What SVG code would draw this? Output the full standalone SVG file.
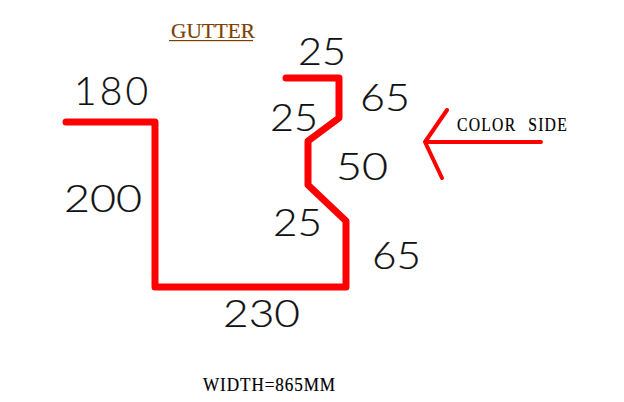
<svg xmlns="http://www.w3.org/2000/svg" width="624" height="402" viewBox="0 0 624 402">
<style>
.dim{font-family:"Lato","Liberation Sans",sans-serif;font-weight:300;font-size:38px;fill:#111;stroke:#111;stroke-width:.2}
.ser{font-family:"Liberation Serif",serif;font-size:19px;fill:#000;stroke:#000;stroke-width:.2}
.red{fill:none;stroke:#f00;stroke-linejoin:round;stroke-linecap:round}
</style>
<rect width="624" height="402" fill="#fff"/>
<g id="connectors">
<path id="profile" class="red" stroke-width="7" d="M66 122H155V287H346V221L308 185V141L339 118V78H286"/>
<path id="arrow" class="red" stroke-width="4" d="M541 142H425M447 110L425 142L442 178"/>
</g>
<g id="title"><text class="ser" x="171" y="38" style="fill:#7f3f00;stroke:#7f3f00;font-size:21px" textLength="84" lengthAdjust="spacingAndGlyphs">GUTTER</text><rect x="169" y="40" width="84" height="1.2" fill="#7f3f00"/></g>
<g id="label-color-side"><text class="ser" x="457" y="131" textLength="111" lengthAdjust="spacingAndGlyphs" style="letter-spacing:1.5px;word-spacing:8px">COLOR SIDE</text></g>
<g id="label-width"><text class="ser" x="203" y="391" textLength="133" lengthAdjust="spacingAndGlyphs" style="letter-spacing:1px">WIDTH=865MM</text></g>
<g id="dim-180"><text class="dim" x="74" y="105" textLength="74" lengthAdjust="spacing" style="font-size:39px">180</text></g>
<g id="dim-200"><text class="dim" x="64" y="212" textLength="78" lengthAdjust="spacingAndGlyphs">200</text></g>
<g id="dim-25a"><text class="dim" x="298" y="65" textLength="48" lengthAdjust="spacingAndGlyphs">25</text></g>
<g id="dim-25b"><text class="dim" x="270" y="131" textLength="48" lengthAdjust="spacingAndGlyphs">25</text></g>
<g id="dim-25c"><text class="dim" x="273" y="236" textLength="49" lengthAdjust="spacingAndGlyphs">25</text></g>
<g id="dim-65a"><text class="dim" x="360" y="111" textLength="50" lengthAdjust="spacingAndGlyphs">65</text></g>
<g id="dim-65b"><text class="dim" x="372" y="269" textLength="49" lengthAdjust="spacingAndGlyphs">65</text></g>
<g id="dim-50"><text class="dim" x="336" y="180" textLength="52" lengthAdjust="spacingAndGlyphs">50</text></g>
<g id="dim-230"><text class="dim" x="223" y="327" textLength="77" lengthAdjust="spacingAndGlyphs">230</text></g>
</svg>
